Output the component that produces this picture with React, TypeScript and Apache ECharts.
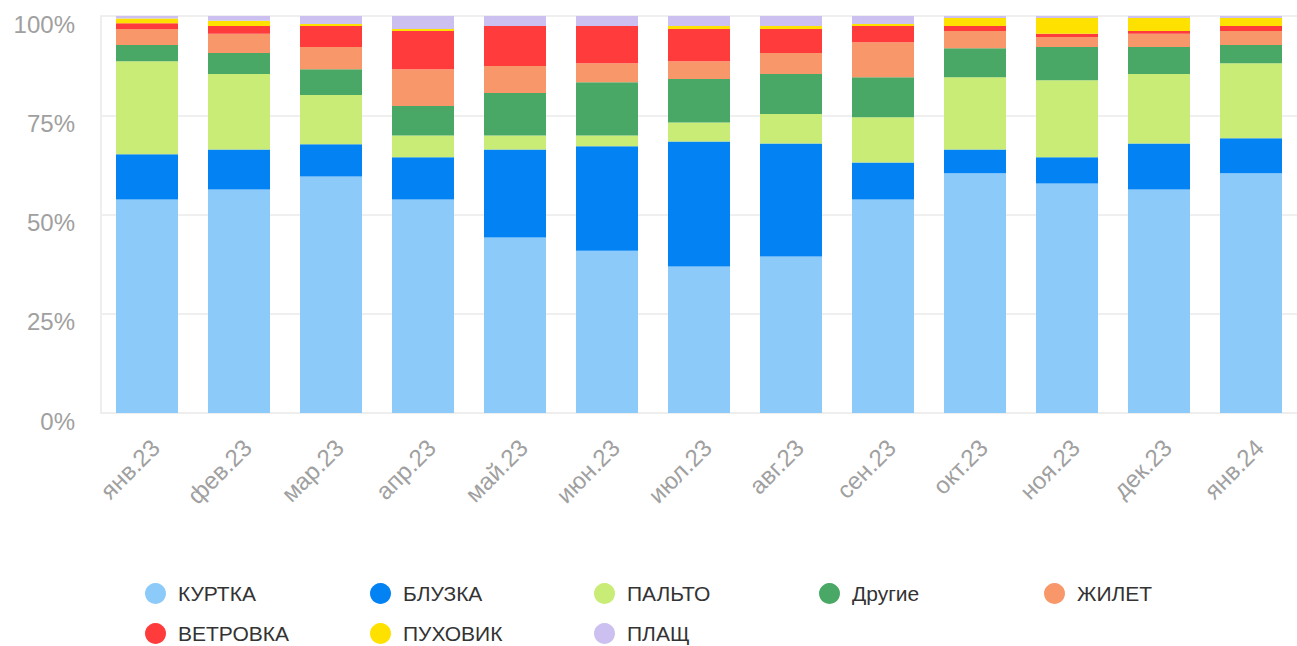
import React, { useEffect, useRef } from "react";
import * as echarts from "echarts";

const categories = ["янв.23", "фев.23", "мар.23", "апр.23", "май.23", "июн.23", "июл.23", "авг.23", "сен.23", "окт.23", "ноя.23", "дек.23", "янв.24"];

const kurtka = [53.8, 56.3, 59.6, 53.8, 44.2, 40.9, 36.9, 39.4, 53.8, 60.4, 57.8, 56.3, 60.4];
const bluzka = [11.4, 10.1, 8.1, 10.6, 22.2, 26.3, 31.5, 28.5, 9.3, 6.0, 6.6, 11.6, 8.8];
const palto = [23.4, 19.0, 12.4, 5.5, 3.5, 2.7, 4.8, 7.4, 11.4, 18.2, 19.4, 17.5, 18.9];
const drugie = [4.1, 5.3, 6.5, 7.4, 10.7, 13.4, 10.9, 10.1, 10.1, 7.3, 8.4, 6.8, 4.6];
const zhilet = [4.0, 4.8, 5.6, 9.3, 6.8, 4.8, 4.5, 5.3, 8.8, 4.3, 2.5, 3.3, 3.5];
const vetrovka = [1.5, 2.0, 5.3, 9.6, 10.1, 9.4, 8.1, 6.0, 4.1, 1.3, 0.8, 0.7, 1.3];
const puhovik = [1.2, 1.3, 0.5, 0.5, 0, 0, 0.8, 0.8, 0.5, 2.0, 4.0, 3.3, 2.0];
const plasch = [0.6, 1.2, 2.0, 3.3, 2.5, 2.5, 2.5, 2.5, 2.0, 0.5, 0.5, 0.5, 0.5];

const seriesNames = ["КУРТКА", "БЛУЗКА", "ПАЛЬТО", "Другие", "ЖИЛЕТ", "ВЕТРОВКА", "ПУХОВИК", "ПЛАЩ"];
const seriesData = [kurtka, bluzka, palto, drugie, zhilet, vetrovka, puhovik, plasch];
const colors = ["#8ccafa", "#0382f4", "#c8ec76", "#4aa867", "#f8986a", "#ff3b3b", "#ffe100", "#cbc0ef"];

const yTicks = [0, 25, 50, 75, 100];

export default function App() {
  const ref = useRef<HTMLDivElement>(null);
  useEffect(() => {
    if (!ref.current) return;
    const chart = echarts.init(ref.current, null, { renderer: "svg" });
    const font = "'Liberation Sans', Arial, Helvetica, sans-serif";
    const legendCols = [145, 370, 594, 819, 1044];
    const legendRows = [583, 623];
    const legends = seriesNames.map((name, i) => ({
      left: legendCols[i % 5],
      top: legendRows[Math.floor(i / 5)],
      padding: 0,
      orient: "horizontal",
      icon: "circle",
      itemWidth: 21,
      itemHeight: 21,
      itemGap: 0,
      data: [name],
      textStyle: {
        fontSize: 21,
        color: "#333",
        padding: [0, 0, 0, 7],
        fontFamily: font,
      },
    }));
    chart.setOption({
      animation: false,
      color: colors,
      textStyle: { fontFamily: font },
      grid: { left: 101, top: 16, width: 1202, height: 397, containLabel: false },
      legend: legends,
      xAxis: {
        type: "category",
        data: categories,
        axisLine: { show: true, lineStyle: { color: "#eeeeee", width: 2 } },
        axisTick: { show: false },
        axisLabel: {
          rotate: 45,
          fontSize: 24,
          color: "#a0a0a0",
          margin: 22,
          verticalAlign: "top",
          fontFamily: font,
        },
      },
      yAxis: {
        type: "value",
        min: 0,
        max: 100,
        interval: 25,
        axisLine: { show: true, lineStyle: { color: "#eeeeee", width: 2 } },
        axisTick: { show: false },
        splitLine: { show: true, lineStyle: { color: "#efefef", width: 2 } },
        axisLabel: {
          formatter: (v: number) => (yTicks.includes(v) ? "{a|" + v + "%}" : ""),
          margin: 26,
          rich: {
            a: {
              fontSize: 24,
              color: "#a0a0a0",
              padding: [16, 0, 0, 0],
              fontFamily: font,
            },
          },
        },
      },
      series: seriesNames.map((name, i) => ({
        name,
        type: "bar",
        stack: "total",
        barWidth: 62,
        data: seriesData[i],
        itemStyle: { color: colors[i] },
      })),
    });
    return () => chart.dispose();
  }, []);
  return (
    <div
      ref={ref}
      style={{ position: "absolute", left: 0, top: 0, width: 1297, height: 646, background: "#fff" }}
    />
  );
}
